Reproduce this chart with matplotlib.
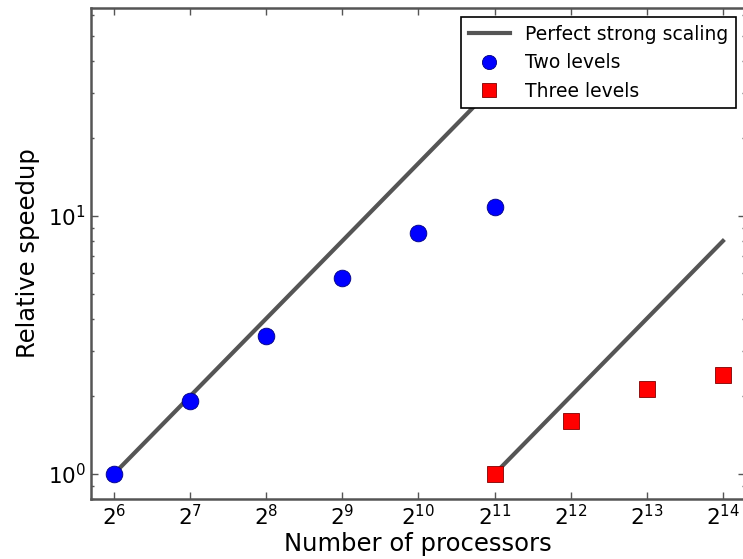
import matplotlib
matplotlib.use("Agg")
import matplotlib.pyplot as plt
from matplotlib.ticker import LogLocator, LogFormatterSciNotation

# --- données ---
procs_two = [2**6, 2**7, 2**8, 2**9, 2**10, 2**11]
speedup_two = [1.0, 1.92, 3.43, 5.75, 8.6, 10.8]

procs_three = [2**11, 2**12, 2**13, 2**14]
speedup_three = [1.0, 1.60, 2.14, 2.42]

ideal_two_x = [2**6, 2**11]
ideal_two_y = [1, 32]
ideal_three_x = [2**11, 2**14]
ideal_three_y = [1, 8]

grey = "#555555"
plt.rcParams["font.family"] = "DejaVu Sans"

fig = plt.figure(figsize=(7.43, 5.59), dpi=100)
ax = fig.add_axes([91 / 743, 1 - 499 / 559, 654 / 743, 491 / 559])

ax.plot(ideal_two_x, ideal_two_y, color=grey, lw=3, label="Perfect strong scaling")
ax.plot(ideal_three_x, ideal_three_y, color=grey, lw=3)
ax.plot(procs_two, speedup_two, "o", ms=12, color="blue", mec="#000080", mew=0.6,
        label="Two levels")
ax.plot(procs_three, speedup_three, "s", ms=12, color="red", mec="#800000", mew=0.6,
        label="Three levels")

ax.set_xscale("log", base=2)
ax.set_yscale("log")
ax.set_xlim(2**5.70, 2**14.29)
ax.set_ylim(0.8, 64)
ax.xaxis.set_major_locator(LogLocator(base=2, numticks=20))
ax.xaxis.set_major_formatter(LogFormatterSciNotation(base=2))
ax.xaxis.set_minor_locator(plt.NullLocator())

for side in ax.spines.values():
    side.set_color(grey)
    side.set_linewidth(1.8)
ax.tick_params(which="both", direction="in", top=True, right=True, colors=grey,
               labelcolor="black", labelsize=15.5)
ax.tick_params(which="major", length=5, width=1)
ax.tick_params(which="minor", length=2.5, width=1)

ax.set_xlabel("Number of processors", fontsize=17.5, labelpad=2)
ax.set_ylabel("Relative speedup", fontsize=17.5, labelpad=6)

leg = ax.legend(loc="upper right", fontsize=13.5, numpoints=1, fancybox=False,
                framealpha=1, edgecolor="black", borderaxespad=0.5,
                handlelength=2.2, handletextpad=0.8, borderpad=0.4,
                labelspacing=0.5, markerscale=0.85)
leg.get_frame().set_linewidth(1.2)

fig.savefig("out.png", dpi=100)
